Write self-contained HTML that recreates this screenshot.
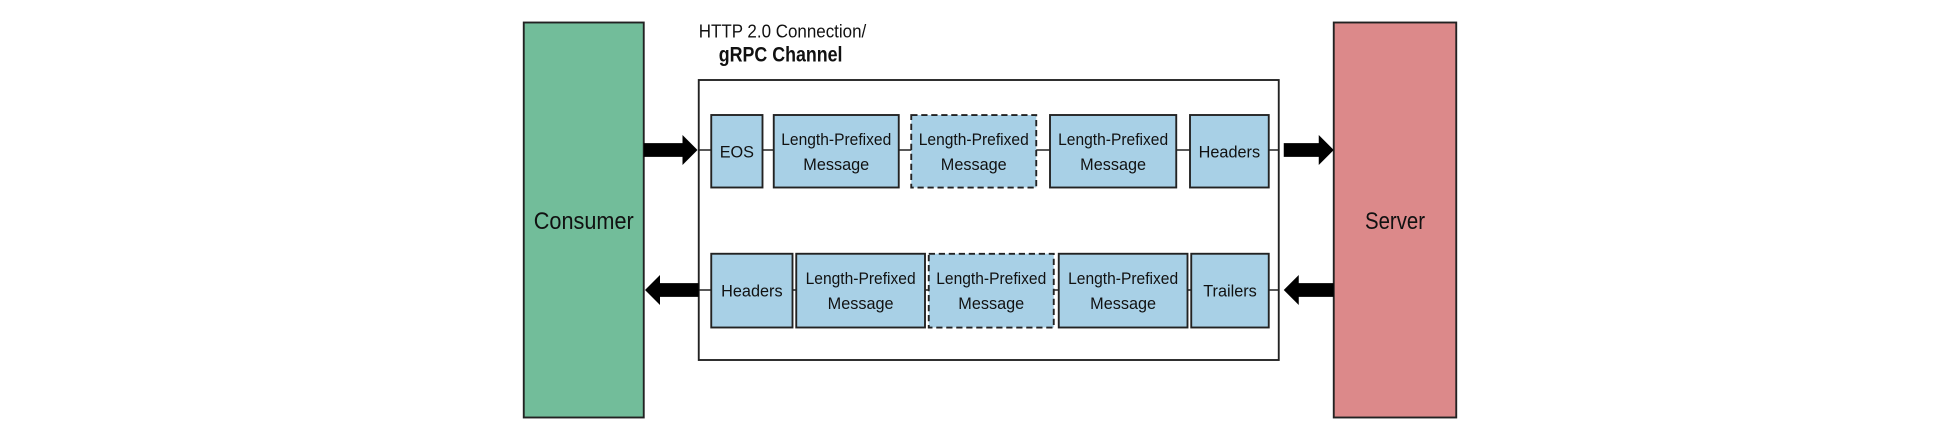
<!DOCTYPE html>
<html><head><meta charset="utf-8"><style>
html,body{margin:0;padding:0;background:#fff;}
svg{display:block;}
text{font-family:"Liberation Sans",sans-serif;fill:#111;}
</style></head><body>
<svg width="1955" height="434" viewBox="0 0 1564 347.2" preserveAspectRatio="none" xmlns="http://www.w3.org/2000/svg">
<rect x="419" y="18" width="96" height="316" fill="#72bd9a" stroke="#222" stroke-width="1.5"/>
<text x="467" y="183" font-size="19" text-anchor="middle" textLength="80" lengthAdjust="spacingAndGlyphs">Consumer</text>
<rect x="1067" y="18" width="98" height="316" fill="#dc898a" stroke="#222" stroke-width="1.5"/>
<text x="1116" y="183" font-size="19" text-anchor="middle" textLength="48" lengthAdjust="spacingAndGlyphs">Server</text>
<text x="559" y="30" font-size="15" textLength="134" lengthAdjust="spacingAndGlyphs">HTTP 2.0 Connection/</text>
<text x="575" y="49" font-size="17" font-weight="bold" textLength="99" lengthAdjust="spacingAndGlyphs">gRPC Channel</text>
<rect x="559" y="64" width="464" height="224" fill="none" stroke="#222" stroke-width="1.5"/>
<line x1="559" y1="120" x2="1023" y2="120" stroke="#222" stroke-width="1.2"/>
<line x1="559" y1="232" x2="1023" y2="232" stroke="#222" stroke-width="1.2"/>
<polygon points="515,114.5 546,114.5 546,108 558,120 546,132 546,125.5 515,125.5" fill="#000"/>
<polygon points="1027,114.5 1055,114.5 1055,108 1067,120 1055,132 1055,125.5 1027,125.5" fill="#000"/>
<polygon points="559,226.5 528,226.5 528,220 516,232 528,244 528,237.5 559,237.5" fill="#000"/>
<polygon points="1067,226.5 1039,226.5 1039,220 1027,232 1039,244 1039,237.5 1067,237.5" fill="#000"/>
<g fill="#a8d0e6" stroke="#222" stroke-width="1.5">
<rect x="569" y="92" width="41" height="58"/>
<rect x="619" y="92" width="100" height="58"/>
<rect x="729" y="92" width="100" height="58" stroke-dasharray="5,3"/>
<rect x="840" y="92" width="101" height="58"/>
<rect x="952" y="92" width="63" height="58"/>
<rect x="569" y="203" width="65" height="59"/>
<rect x="637" y="203" width="103" height="59"/>
<rect x="743" y="203" width="100" height="59" stroke-dasharray="5,3"/>
<rect x="847" y="203" width="103" height="59"/>
<rect x="953" y="203" width="62" height="59"/>
</g>
<g font-size="13" text-anchor="middle">
<text x="589.5" y="126">EOS</text>
<text x="669" y="116" textLength="88" lengthAdjust="spacingAndGlyphs">Length-Prefixed</text><text x="669" y="136">Message</text>
<text x="779" y="116" textLength="88" lengthAdjust="spacingAndGlyphs">Length-Prefixed</text><text x="779" y="136">Message</text>
<text x="890.5" y="116" textLength="88" lengthAdjust="spacingAndGlyphs">Length-Prefixed</text><text x="890.5" y="136">Message</text>
<text x="983.5" y="126">Headers</text>
<text x="601.5" y="237">Headers</text>
<text x="688.5" y="227" textLength="88" lengthAdjust="spacingAndGlyphs">Length-Prefixed</text><text x="688.5" y="247">Message</text>
<text x="793" y="227" textLength="88" lengthAdjust="spacingAndGlyphs">Length-Prefixed</text><text x="793" y="247">Message</text>
<text x="898.5" y="227" textLength="88" lengthAdjust="spacingAndGlyphs">Length-Prefixed</text><text x="898.5" y="247">Message</text>
<text x="984" y="237">Trailers</text>
</g>
</svg>
</body></html>
